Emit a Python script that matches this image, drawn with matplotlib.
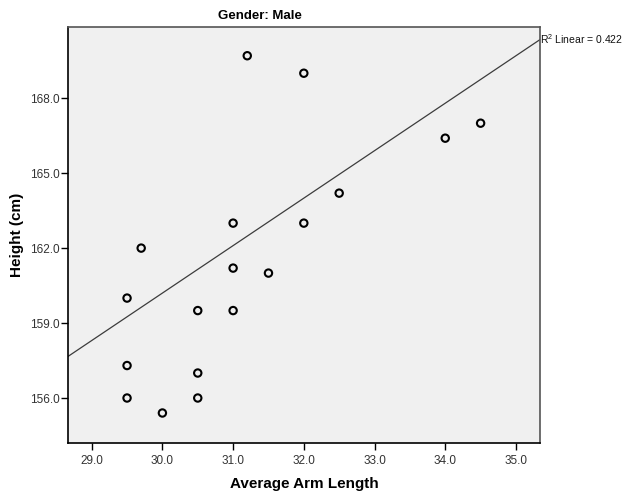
import numpy as np
import matplotlib
matplotlib.use("Agg")
import matplotlib.pyplot as plt

plt.rcParams["font.family"] = ["Liberation Sans", "DejaVu Sans"]
plt.rcParams["mathtext.fontset"] = "custom"
plt.rcParams["mathtext.rm"] = "Liberation Sans"
plt.rcParams["mathtext.it"] = "Liberation Sans"

arm_length = [29.5, 29.7, 29.5, 29.5, 30.0, 30.5, 30.5, 30.5, 31.0,
              31.0, 31.0, 31.2, 31.5, 32.0, 32.0, 32.5, 34.0, 34.5]
height = [160.0, 162.0, 157.3, 156.0, 155.4, 159.5, 157.0, 156.0, 163.0,
          161.2, 159.5, 169.7, 161.0, 169.0, 163.0, 164.2, 166.4, 167.0]

# linear fit as shown on the chart
fit_slope = 1.90
fit_intercept = 103.2

x_ticks = [29.0, 30.0, 31.0, 32.0, 33.0, 34.0, 35.0]
y_ticks = [156.0, 159.0, 162.0, 165.0, 168.0]
r2_label = "R$^2$ Linear = 0.422"

xlim = (28.665, 35.34)
ylim = (154.2, 170.85)

fig = plt.figure(figsize=(6.25, 4.91), dpi=100)
ax = fig.add_axes([0.1088, 0.0978, 0.7552, 0.8472])
ax.set_facecolor("#f0f0f0")

xs = np.array(xlim)
ax.plot(xs, fit_slope * xs + fit_intercept, color="#3c3c3c", linewidth=0.9, zorder=2)

ax.scatter(arm_length, height, s=28, facecolors="none", edgecolors="black",
           linewidths=1.5, zorder=3)

ax.set_xlim(xlim)
ax.set_ylim(ylim)
ax.set_xticks(x_ticks)
ax.set_yticks(y_ticks)
ax.set_xticklabels([f"{v:.1f}" for v in x_ticks])
ax.set_yticklabels([f"{v:.1f}" for v in y_ticks])
ax.tick_params(direction="out", length=5, width=1, labelsize=8.5,
               labelcolor="#333333", color="black", pad=1)
ax.tick_params(axis="x", pad=4)

for side in ["top", "right"]:
    ax.spines[side].set_color("#555555")
for side in ["left", "bottom"]:
    ax.spines[side].set_color("black")
for sp in ax.spines.values():
    sp.set_linewidth(1.2)

fig.text(0.416, 0.967, "Gender: Male", fontsize=9.5, fontweight="bold",
         ha="center", va="center",
         family=["Liberation Sans Narrow", "Liberation Sans", "DejaVu Sans"])
ax.set_xlabel("Average Arm Length", fontsize=11, fontweight="bold", labelpad=7)
ax.set_ylabel("Height (cm)", fontsize=11, fontweight="bold", labelpad=4)

ax.text(xlim[1], fit_slope * xlim[1] + fit_intercept, r2_label, fontsize=7.5,
        ha="left", va="center", clip_on=False, color="#111111")

fig.savefig("out.png", dpi=100)
